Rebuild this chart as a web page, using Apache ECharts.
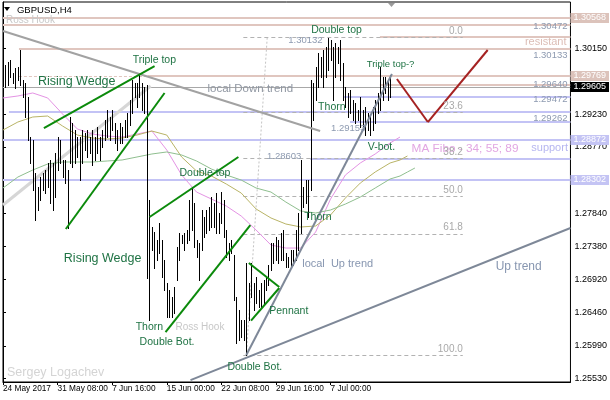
<!DOCTYPE html>
<html><head><meta charset="utf-8">
<script src="https://cdn.jsdelivr.net/npm/echarts@6/dist/echarts.min.js"></script>
<style>html,body{margin:0;padding:0;background:#fff}#c{width:610px;height:400px}</style>
</head><body><div id="c"></div>
<script>
// ---------- axis ticks ----------
const xTickIdx = [0, 22, 44, 66, 88, 110, 132];
const xTickLabels = ['24 May 2017', '31 May 08:00', '7 Jun 16:00', '15 Jun 00:00', '22 Jun 08:00', '29 Jun 16:00', '7 Jul 00:00'];
const yTickValues = [1.25530, 1.25990, 1.26460, 1.26920, 1.27380, 1.27840, 1.28770, 1.29230, 1.30150];
const xMin = 0, xMax = 228.7;
const yMin = 1.25484, yMax = 1.30797;

// ---------- GBPUSD H4 bars (bar i+1) ----------
const barHigh = [1.29916,1.29958,1.29986,1.29804,1.29874,1.29888,1.30126,1.29706,1.29664,1.29468,
1.28909,1.28867,1.28406,1.28210,1.28350,1.28406,1.28448,1.28546,1.28588,1.28546,
1.28686,1.28909,1.28867,1.28588,1.28588,1.28448,1.29189,1.29105,1.29007,1.28909,
1.28909,1.29007,1.28965,1.29007,1.28909,1.29007,1.28909,1.29049,1.28909,1.29007,
1.29147,1.29287,1.29189,1.29287,1.29105,1.29007,1.29105,1.29049,1.29147,1.29245,
1.29427,1.29706,1.29664,1.29664,1.29804,1.29664,1.29608,1.29636,1.28028,1.27651,
1.27581,1.27469,1.27707,1.27469,1.27189,1.26868,1.26770,1.26672,1.26812,1.27371,
1.27567,1.27539,1.27567,1.27609,1.28028,1.28210,1.27987,1.27469,1.27427,1.27889,
1.27791,1.27889,1.27931,1.28070,1.27987,1.28126,1.27847,1.28140,1.28028,1.27609,
1.27427,1.27469,1.27259,1.26672,1.26490,1.26350,1.26350,1.27147,1.26868,1.27147,
1.26868,1.26952,1.26770,1.26868,1.26910,1.26952,1.27120,1.27427,1.27427,1.27511,
1.27469,1.27567,1.27609,1.27287,1.27231,1.27329,1.27329,1.27609,1.27847,1.28588,
1.28210,1.28308,1.28308,1.29706,1.29664,1.29888,1.30084,1.30028,1.30126,1.30168,
1.30294,1.30266,1.30168,1.30224,1.30168,1.30266,1.29944,1.29608,1.29524,1.29566,
1.29427,1.29385,1.29287,1.29468,1.29287,1.29329,1.29245,1.29217,1.29329,1.29427,
1.29524,1.29888,1.29748,1.29748,1.29706,1.29776];
const barLow = [1.29608,1.29636,1.29748,1.29664,1.29594,1.29706,1.29636,1.29468,1.29189,1.28867,
1.28546,1.28168,1.27749,1.27889,1.28028,1.28168,1.28126,1.28210,1.27987,1.27889,
1.28070,1.28448,1.28546,1.28350,1.28266,1.27637,1.28546,1.28490,1.28546,1.28630,
1.28308,1.28546,1.28728,1.28630,1.28686,1.28518,1.28588,1.28686,1.28588,1.28770,
1.28867,1.28909,1.28867,1.29007,1.28825,1.28728,1.28825,1.28825,1.28909,1.28909,
1.29077,1.29245,1.29468,1.29329,1.29468,1.29287,1.29245,1.26938,1.26350,1.27329,
1.27078,1.27189,1.27287,1.26952,1.26770,1.26392,1.26392,1.26392,1.26448,1.26910,
1.27189,1.27427,1.27329,1.27427,1.27469,1.27609,1.27371,1.27231,1.26910,1.27329,
1.27511,1.27567,1.27609,1.27651,1.27651,1.27567,1.27567,1.27707,1.27511,1.27231,
1.27189,1.27287,1.26630,1.26029,1.26071,1.26113,1.26071,1.25861,1.26350,1.26672,
1.26490,1.26588,1.26532,1.26532,1.26588,1.26770,1.26840,1.27050,1.27147,1.27189,
1.27147,1.27189,1.27189,1.27092,1.27092,1.27092,1.27120,1.27189,1.27329,1.27567,
1.27931,1.27987,1.27791,1.28168,1.29147,1.29427,1.29608,1.29748,1.29608,1.29748,
1.29846,1.29986,1.29427,1.29748,1.29944,1.29706,1.29427,1.29329,1.29189,1.29245,
1.29147,1.29105,1.29147,1.29049,1.29007,1.28937,1.29007,1.28937,1.29007,1.29105,
1.29245,1.29287,1.29427,1.29524,1.29427,1.29468];

// ---------- moving averages (MA Fibo 34; 55; 89) ----------
const maIdx = [0,6,12,18,24,30,36,42,48,54,60,66,72,78,84,90,96,102,108,114,120,126,132,138,144,150,156,160,163,166];
const ma34 = [1.29455,1.29483,1.29525,1.29455,1.29231,1.29021,1.28951,1.28923,1.28909,1.28951,1.28993,1.28728,1.28378,1.28140,1.28042,1.27944,1.27805,1.27609,1.27399,1.27357,1.27357,1.27581,1.28042,1.28378,1.28546,1.28672,1.28825,1.28909,null,null];
const ma55 = [1.29007,1.29119,1.29189,1.29203,1.29063,1.28937,1.28895,1.28881,1.28895,1.28937,1.28993,1.28937,1.28630,1.28434,1.28364,1.28252,1.28126,1.27903,1.27777,1.27693,1.27651,1.27665,1.27819,1.28056,1.28266,1.28420,1.28546,1.28588,1.28644,null];
const ma89 = [1.28196,1.28350,1.28448,1.28532,1.28560,1.28560,1.28560,1.28574,1.28588,1.28630,1.28672,1.28700,1.28658,1.28574,1.28462,1.28378,1.28308,1.28196,1.28140,1.28000,1.27875,1.27847,1.27889,1.27972,1.28070,1.28196,1.28322,1.28364,1.28420,1.28476];

// ---------- horizontal levels ----------
const levelStart = [0, 0, 151.9, 6.43, 6.43, 58.28, 151.9, 137.06, 2.4, 139.87, 0, 123.8, 0, 0];
const levelEnd   = [228.7,228.7,228.7,228.7,58.28,228.7,228.7,228.7,228.7,228.7,228.7,228.7,228.7,228.7];
const levelPrice = [1.30568, 1.30472, 1.30308, 1.30133, 1.29769, 1.29769, 1.29640, 1.29472, 1.29262, 1.29119, 1.28872, 1.28603, 1.28302, 1.29605];
const levelKind  = [0, 0, 0, 0, 1, 0, 0, 2, 2, 2, 2, 2, 2, 3];

// ---------- Fibonacci ----------
const fibStart = 96.86, fibEnd = 185.3;
const fibPrices = [1.30308, 1.29259, 1.28609, 1.28084, 1.27560, 1.25861];
const fibNames = ['0.0', '23.6', '38.2', '50.0', '61.8', '100.0'];
const fibBase = [[98.07, 1.25861], [106.5, 1.30308]];

// ---------- trend / pattern lines: [x1, p1, x2, p2] ----------
const downTrend = [0, 1.30392, 127.8, 1.28993];
const silverLine = [0, 1.27959, 59.49, 1.29623];
const upTrend = [75.56, 1.25511, 228.7, 1.27637];
const localUpTrend = [98.07, 1.25861, 156.75, 1.29790];
const greenLines = [
  [16.48, 1.29035, 61.09, 1.29902],
  [25.32, 1.27623, 65.11, 1.29525],
  [59.08, 1.27791, 94.86, 1.28630],
  [65.51, 1.26183, 99.68, 1.27679],
  [99.08, 1.27147, 111.33, 1.26812],
  [99.96, 1.26341, 111.33, 1.26798]
];
const forecastV = [[158.76, 1.29720], [171.22, 1.29119], [195.34, 1.30126]];

// ---------- right-axis price boxes ----------
const boxPrices = [1.30568, 1.29769, 1.29605, 1.28872, 1.28302];
const boxKind = [0, 0, 1, 2, 2];

// ---------- annotations ----------
const noteText = ['Ross Hook','Rising Wedge','Triple top','Rising Wedge','Double top','Thorn','Ross Hook','Double Bot.','Pennant','Double Bot.',
  'Thorn','local  Up trend','Up trend','local Down trend','Double top','Thorn','Triple top-?','V-bot.','MA Fibo - 34; 55; 89','support',
  'resistant','Sergey Logachev','GBPUSD,H4',
  '1.30472','1.30133','1.29640','1.29472','1.29262','1.30132','1.28603','1.29153'];
const noteIdx = [1.21,14.07,52.25,24.52,71.14,53.46,69.53,55.06,107.3,90.43,
  121.38,120.58,198.55,82.4,124.2,127.0,146.58,146.99,164.67,212.9,
  227.1,1.61,5.63,
  227.5,227.5,227.5,227.5,227.5,114.95,106.39,132.23];
const notePrice = [1.30545,1.29678,1.29986,1.27217,1.28406,1.26253,1.26253,1.26043,1.26469,1.25693,
  1.27791,1.27133,1.27092,1.29588,1.30406,1.29329,1.29923,1.28770,1.28751,1.28756,
  1.30238,1.25623,1.30685,
  1.30461,1.30056,1.29650,1.29441,1.29171,1.30259,1.28634,1.29031];
const noteKind = [1,0,0,0,0,0,1,0,0,0, 0,2,3,4,0,0,5,0,6,7, 8,9,10, 11,11,11,11,11,12,12,12];

// ================= styles =================
const FONT = '"Liberation Sans", Arial, sans-serif';
const LEVEL_STYLE = [
  {color:'#e0c6bf', w:2},
  {color:'#e0c6bf', w:1, dash:[3,2]},
  {color:'#c3c3f5', w:2},
  {color:'#a8a8a8', w:1}
];
const BOX_STYLE = [{bg:'#dcc3bb'}, {bg:'#000000'}, {bg:'#c4c4f4'}];
const NOTE_STYLE = [
  {c:'#1f7344', s:10.5, a:'left'},
  {c:'#c8c8c8', s:10, a:'left'},
  {c:'#8796b0', s:11, a:'left'},
  {c:'#8796b0', s:12, a:'left'},
  {c:'#9097a2', s:11.5, a:'left'},
  {c:'#1f7344', s:9.5, a:'left'},
  {c:'#e2a6e2', s:11.8, a:'left'},
  {c:'#b6b6f0', s:11, a:'left'},
  {c:'#dcbdb5', s:11, a:'right'},
  {c:'#d4d4d4', s:12.5, a:'left'},
  {c:'#000000', s:9.5, a:'left'},
  {c:'#8d9ab0', s:9.5, a:'right'},
  {c:'#8d9ab0', s:9.5, a:'left'}
];
const BIG_NOTES = {1:12.5, 3:12.5};

function lineEl(api, x1, p1, x2, p2, color, w, dash) {
  const a = api.coord([x1, p1]), b = api.coord([x2, p2]);
  let y1 = a[1], y2 = b[1];
  if (Math.abs(y1 - y2) < 0.01) {
    y1 = y2 = (w % 2 === 1) ? Math.round(y1) + 0.5 : Math.round(y1);
  }
  return {type:'line', shape:{x1:a[0], y1:y1, x2:b[0], y2:y2},
    style:{stroke:color, lineWidth:w, lineDash:dash || null, lineCap:'butt'}};
}

const barRows = barHigh.map((h, k) => [k + 1, h, barLow[k]]);
const levelRows = levelPrice.map((p, k) => [levelStart[k], p, levelEnd[k], p, levelKind[k]]);
const fibRows = fibPrices.map(p => [fibStart, p, fibEnd, p]);
const fgSegs = [];
fgSegs.push([...downTrend, 0]);
fgSegs.push([...upTrend, 1]);
fgSegs.push([...localUpTrend, 1]);
greenLines.forEach(g => fgSegs.push([...g, 2]));
for (let k = 0; k < forecastV.length - 1; k++) fgSegs.push([forecastV[k][0], forecastV[k][1], forecastV[k+1][0], forecastV[k+1][1], 3]);
const FG_STYLE = [
  {color:'#a2a2a2', w:2},
  {color:'#7e8898', w:2},
  {color:'#0b8a0b', w:2},
  {color:'#a52222', w:2}
];
const noteRows = noteText.map((t, k) => [noteIdx[k], notePrice[k], k]);
const fibNoteRows = fibPrices.map((p, k) => [fibEnd, p, k]);
const boxRows = boxPrices.map((p, k) => [xMax, p, k]);

function maData(arr) { return maIdx.map((x, k) => [x, arr[k]]).filter(d => d[1] != null); }

const chart = echarts.init(document.getElementById('c'));
chart.setOption({
  animation: false,
  backgroundColor: '#ffffff',
  grid: {left: 2, right: 39, top: 2, bottom: 18, show: true, borderColor: '#000', borderWidth: 1, backgroundColor: '#fff'},
  xAxis: {
    type: 'value', min: xMin, max: xMax,
    splitLine: {show: false},
    axisLine: {show: true, lineStyle: {color: '#000', width: 1}},
    axisTick: {show: true, customValues: xTickIdx, length: 3, lineStyle: {color: '#000'}},
    axisLabel: {customValues: xTickIdx, align: 'left', margin: 3, color: '#000', fontSize: 8.3, fontFamily: FONT,
      formatter: v => { const k = xTickIdx.indexOf(Math.round(v)); return k >= 0 ? xTickLabels[k] : ''; }}
  },
  yAxis: {
    type: 'value', position: 'right', min: yMin, max: yMax, scale: true,
    splitLine: {show: false},
    axisLine: {show: true, lineStyle: {color: '#000', width: 1}},
    axisTick: {show: true, customValues: yTickValues, length: 3, lineStyle: {color: '#000'}},
    axisLabel: {customValues: yTickValues, margin: 4, color: '#000', fontSize: 9, fontFamily: FONT,
      formatter: v => v.toFixed(5)}
  },
  graphic: [
    {type: 'polygon', shape: {points: [[4,7],[10,7],[7,11]]}, style: {fill: '#000'}, z: 100},
    {type: 'polygon', shape: {points: [[388,3],[395,3],[391.5,7]]}, style: {fill: '#9a9a9a'}, z: 100}
  ],
  series: [
    {
      type: 'custom', z: 1, data: levelRows, encode: {x: [0, 2], y: [1, 3]},
      renderItem: (params, api) => {
        const s = LEVEL_STYLE[api.value(4)];
        return lineEl(api, api.value(0), api.value(1), api.value(2), api.value(3), s.color, s.w, s.dash);
      }
    },
    {
      type: 'custom', z: 1, data: fibRows, encode: {x: [0, 2], y: [1, 3]},
      renderItem: (params, api) => lineEl(api, api.value(0), api.value(1), api.value(2), api.value(3), '#b2b2b2', 1, [4, 3])
    },
    {
      type: 'custom', z: 1, data: [[fibBase[0][0], fibBase[0][1], fibBase[1][0], fibBase[1][1], 0], [...silverLine, 1]],
      encode: {x: [0, 2], y: [1, 3]},
      renderItem: (params, api) => api.value(4) === 0
        ? lineEl(api, api.value(0), api.value(1), api.value(2), api.value(3), '#c4c4c4', 1, [2, 2])
        : lineEl(api, api.value(0), api.value(1), api.value(2), api.value(3), '#d6d6d6', 3)
    },
    {type: 'line', z: 2, data: maData(ma34), symbol: 'none', lineStyle: {color: '#e493e4', width: 1}},
    {type: 'line', z: 2, data: maData(ma55), symbol: 'none', lineStyle: {color: '#b9b466', width: 1}},
    {type: 'line', z: 2, data: maData(ma89), symbol: 'none', lineStyle: {color: '#8fbf8f', width: 1}},
    {
      type: 'custom', z: 3, data: barRows, encode: {x: 0, y: [1, 2]},
      renderItem: (params, api) => {
        const h = api.coord([api.value(0), api.value(1)]);
        const l = api.coord([api.value(0), api.value(2)]);
        const x = Math.round(h[0]) + 0.5;
        return {type: 'line', shape: {x1: x, y1: Math.round(h[1]), x2: x, y2: Math.round(l[1]) + 1},
          style: {stroke: '#000', lineWidth: 1}};
      }
    },
    {
      type: 'custom', z: 4, data: fgSegs, encode: {x: [0, 2], y: [1, 3]},
      renderItem: (params, api) => {
        const s = FG_STYLE[api.value(4)];
        return lineEl(api, api.value(0), api.value(1), api.value(2), api.value(3), s.color, s.w);
      }
    },
    {
      type: 'custom', z: 5, clip: false, data: noteRows, encode: {x: 0, y: 1},
      renderItem: (params, api) => {
        const k = api.value(2);
        const st = NOTE_STYLE[noteKind[k]];
        const size = BIG_NOTES[k] || st.s;
        const p = api.coord([api.value(0), api.value(1)]);
        return {type: 'text', x: p[0], y: p[1],
          style: {text: noteText[k], fill: st.c, font: size + 'px ' + FONT, align: st.a, verticalAlign: 'middle'}};
      }
    },
    {
      type: 'custom', z: 5, clip: false, data: fibNoteRows, encode: {x: 0, y: 1},
      renderItem: (params, api) => {
        const k = api.value(2);
        const p = api.coord([api.value(0), api.value(1)]);
        return {type: 'text', x: p[0], y: p[1] - 6,
          style: {text: fibNames[k], fill: '#a9a9a9', font: '10px ' + FONT, align: 'right', verticalAlign: 'middle'}};
      }
    },
    {
      type: 'custom', z: 6, clip: false, data: boxRows, encode: {x: 0, y: 1},
      renderItem: (params, api) => {
        const k = api.value(2);
        const p = api.coord([api.value(0), api.value(1)]);
        return {type: 'text', x: p[0], y: Math.round(p[1]),
          style: {text: boxPrices[k].toFixed(5), fill: '#ffffff', font: '9px ' + FONT, align: 'left', verticalAlign: 'middle',
            backgroundColor: BOX_STYLE[boxKind[k]].bg, padding: [1, 3, 0, 3], lineHeight: 9}};
      }
    }
  ]
});
</script>
</body></html>
